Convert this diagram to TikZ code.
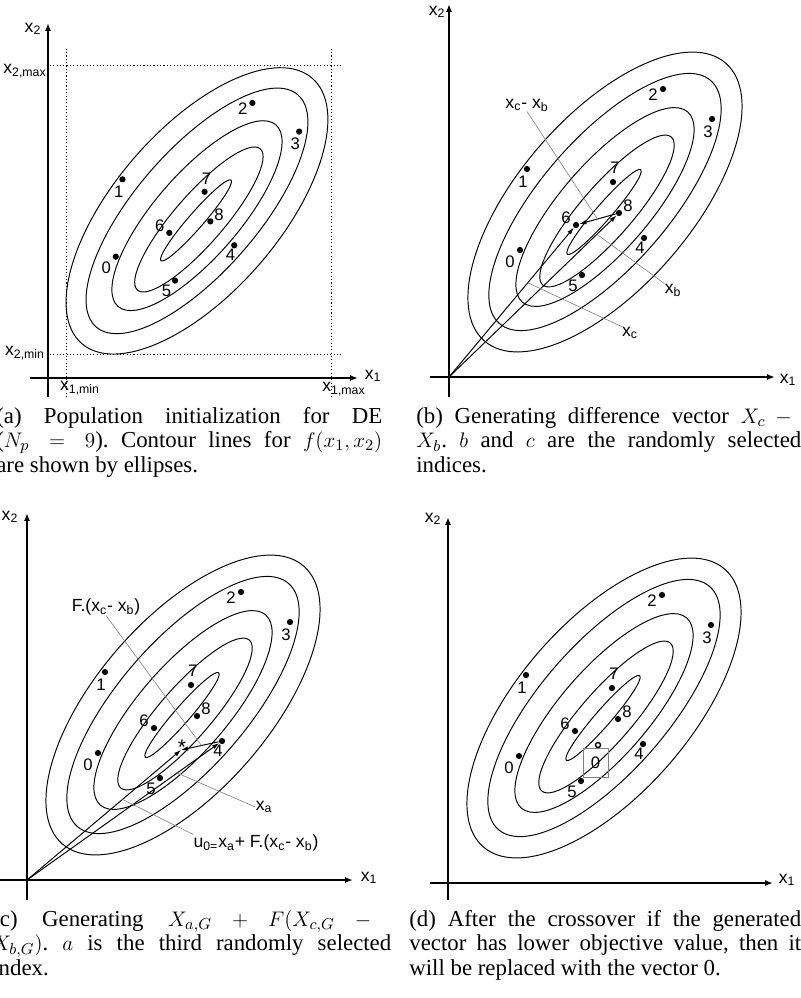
\documentclass[tikz,border=0pt]{standalone}
\usepackage{fontspec}
\setmainfont{Liberation Serif}
\newfontfamily\lblfont{Liberation Sans}
\usetikzlibrary{arrows.meta, calc}
\frenchspacing
\tikzset{
  contour/.style = {draw=black, line width=0.55pt},
  axisline/.style = {line width=1.3pt, -{Latex[length=4.5pt, width=3.4pt]}},
  boundline/.style = {line width=0.5pt, dash pattern=on 0.6pt off 1.3pt},
  popdot/.style = {circle, fill=black, inner sep=0pt, minimum size=0.125cm},
  poplabel/.style = {font=\lblfont\fontsize{9.5}{10}\selectfont, inner sep=0pt},
  axislabel/.style = {font=\lblfont\fontsize{10}{11}\selectfont, inner sep=0pt},
  notelabel/.style = {font=\lblfont\fontsize{10}{11}\selectfont, inner sep=0pt},
  noteline/.style = {draw=gray, line width=0.35pt},
  vecarrow/.style = {line width=0.55pt, -{Latex[length=4pt, width=2.6pt]}},
  capt/.style = {font=\fontsize{13}{14}\selectfont, align=justify, inner sep=0pt, anchor=base west}
}
% contour lines and population of one panel, #1 = name prefix
\newcommand{\contourset}[1]{%
  \foreach \cx/\cy/\ra/\rb in {156/-175/184/86, 156/-175/161/64, 156/-170/126/44, 158/-166/98/26, 155/-165/56/8}
    \draw[contour, rotate around={49:(\cx,\cy)}] (\cx,\cy) ellipse [x radius=\ra, y radius=\rb];
  \foreach \n/\px/\py/\lx/\ly in {0/71/-127/-10/12, 1/78/-208/-4/13, 2/214/-288/-10/6, 3/263/-258/-4/13,
      4/195/-139/-4/10, 5/133/-102/-9/11, 6/127/-152/-10/-7, 7/164/-195/2/-14, 8/170/-164/9/-7} {
    \node[popdot] (#1\n) at (\px,\py) {};
    \node[poplabel] (#1l\n) at (\px+\lx,\py+\ly) {\n};
  }
}

\begin{document}
\begin{tikzpicture}[x=0.02cm, y=-0.02cm]
\useasboundingbox (0,0) rectangle (801,998);

% (a) population initialization
\begin{scope}[shift={(48,378)}, scale=0.955]
  \contourset{a}
\end{scope}
\coordinate (aybot) at (48,397);
\coordinate (aytop) at (48,23);
\coordinate (axleft) at (30,378);
\coordinate (axright) at (358,378);
\draw[axisline] (aybot) -- (aytop);
\draw[axisline] (axleft) -- (axright);
\node[axislabel] (ax2) at (33,29) {x\textsubscript{2}};
\node[axislabel] (ax1) at (373,376) {x\textsubscript{1}};
\coordinate (amin1) at (66,397);
\coordinate (amin1t) at (66,49);
\coordinate (amax1) at (331,397);
\coordinate (amax1t) at (331,49);
\coordinate (amax2l) at (50,65);
\coordinate (amax2r) at (342,65);
\coordinate (amin2l) at (50,354);
\coordinate (amin2r) at (342,354);
\draw[boundline] (amin1) -- (amin1t);
\draw[boundline] (amax1) -- (amax1t);
\draw[boundline] (amax2l) -- (amax2r);
\draw[boundline] (amin2l) -- (amin2r);
\node[axislabel] (ax2max) at (25,71) {x\textsubscript{2,max}};
\node[axislabel] (ax2min) at (25,353) {x\textsubscript{2,min}};
\node[axislabel] (ax1min) at (80,388) {x\textsubscript{1,min}};
\node[axislabel] (ax1max) at (344,389) {x\textsubscript{1,max}};

% (b) difference vector
\begin{scope}[shift={(449,377)}]
  \coordinate (bO) at (0,0);
  \contourset{b}
\end{scope}
\coordinate (bybot) at (449,397);
\coordinate (bytop) at (449,4);
\coordinate (bxleft) at (430,377);
\coordinate (bxright) at (775,377);
\draw[axisline] (bybot) -- (bytop);
\draw[axisline] (bxleft) -- (bxright);
\node[axislabel] (bx2) at (437,12) {x\textsubscript{2}};
\node[axislabel] (bx1) at (788,380) {x\textsubscript{1}};
\draw[vecarrow] (bO) -- (b6);
\draw[vecarrow] (bO) -- (b8);
\draw[vecarrow] (b8) -- (b6);
\node[notelabel] (bdiff) at (527,105) {x\textsubscript{c}- x\textsubscript{b}};
\node[notelabel] (bxb) at (673,290) {x\textsubscript{b}};
\node[notelabel] (bxc) at (630,333) {x\textsubscript{c}};
\coordinate (bdiffend) at ($(b8)!0.5!(b6)$);
\coordinate (bxbend) at ($(bO)!0.87!(b8)$);
\coordinate (bxcend) at ($(bO)!0.62!(b6)$);
\draw[noteline] (bdiff.south) -- (bdiffend);
\draw[noteline] (bxb.north west) -- (bxbend);
\draw[noteline] (bxc.north west) -- (bxcend);

% (c) mutant vector
\begin{scope}[shift={(27,880)}]
  \coordinate (cO) at (0,0);
  \contourset{c}
  \coordinate (cu) at (154,-130);
  \node[font=\lblfont\fontsize{12}{12}\selectfont, inner sep=0pt] (cstar) at (155,-133) {*};
\end{scope}
\coordinate (cybot) at (27,900);
\coordinate (cytop) at (27,513);
\coordinate (cxleft) at (0,880);
\coordinate (cxright) at (353,880);
\draw[axisline] (cybot) -- (cytop);
\draw[axisline] (cxleft) -- (cxright);
\node[axislabel] (cx2) at (10,517) {x\textsubscript{2}};
\node[axislabel] (cx1) at (369,878) {x\textsubscript{1}};
\draw[vecarrow] (cO) -- (c4);
\draw[vecarrow] (cO) -- (cu);
\draw[vecarrow] (c4) -- (cu);
\node[notelabel] (cF) at (106,607) {F.(x\textsubscript{c}- x\textsubscript{b})};
\node[notelabel] (cxa) at (264,807) {x\textsubscript{a}};
\node[notelabel] (cu0) at (256,843) {u\textsubscript{0=}x\textsubscript{a}+ F.(x\textsubscript{c}- x\textsubscript{b})};
\coordinate (cFend) at ($(c4)!0.5!(cu)$);
\coordinate (cxaend) at ($(cO)!0.77!(c4)$);
\coordinate (cu0end) at ($(cO)!0.62!(cu)$);
\draw[noteline] (cF.south) -- (cFend);
\draw[noteline] (cxa.west) -- (cxaend);
\draw[noteline] (cu0.north west) -- (cu0end);

% (d) after selection
\begin{scope}[shift={(448,883)}]
  \coordinate (dO) at (0,0);
  \contourset{d}
  \node[circle, draw, line width=0.8pt, inner sep=0pt, minimum size=0.1cm] (dnew) at (150,-138) {};
  \node[draw=gray, line width=0.4pt, inner sep=0pt, minimum width=0.5cm, minimum height=0.58cm,
        font=\lblfont\fontsize{9.5}{10}\selectfont] (dbox) at (147.5,-120.5) {0};
\end{scope}
\coordinate (dybot) at (448,900);
\coordinate (dytop) at (448,517);
\coordinate (dxleft) at (430,883);
\coordinate (dxright) at (773,883);
\draw[axisline] (dybot) -- (dytop);
\draw[axisline] (dxleft) -- (dxright);
\node[axislabel] (dx2) at (433,519) {x\textsubscript{2}};
\node[axislabel] (dx1) at (787,880) {x\textsubscript{1}};

% captions
\node[capt, text width=7.72cm] (capa) at (-4,423)
  {(a) Population initialization for DE\linebreak ($N_p = 9$). Contour lines for $f(x_1, x_2)$\linebreak are shown by ellipses.};
\node[capt, text width=7.7cm] (capb) at (416,423)
  {(b) Generating difference vector $X_c -{}$\linebreak $X_b$. $b$ and $c$ are the randomly selected\linebreak indices.};
\node[capt, text width=7.98cm] (capc) at (-8,926)
  {(c) Generating $X_{a,G} + F(X_{c,G} -{}$\linebreak $X_{b,G})$. $a$ is the third randomly selected\linebreak index.};
\node[capt, text width=7.84cm] (capd) at (409,926)
  {(d) After the crossover if the generated\linebreak vector has lower objective value, then it\linebreak will be replaced with the vector 0.};
\end{tikzpicture}
\end{document}
